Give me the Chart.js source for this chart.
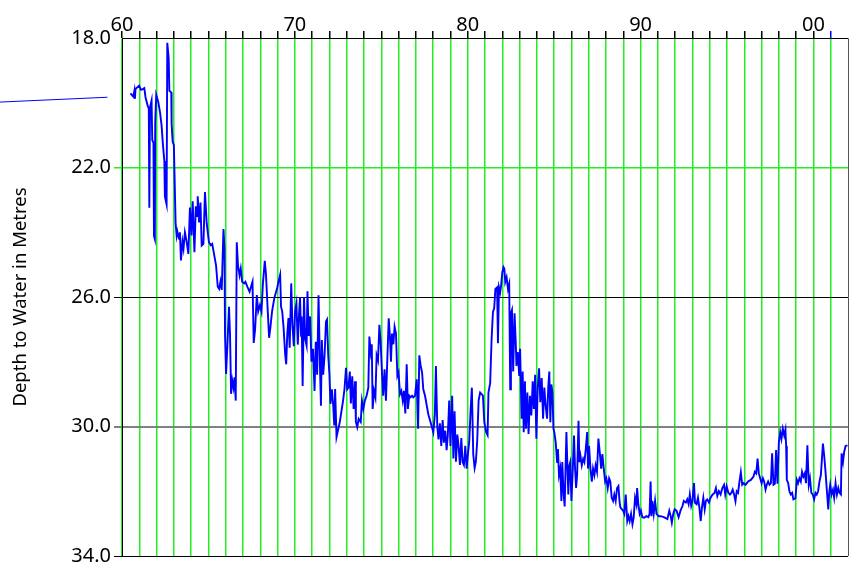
<!DOCTYPE html>
<html>
<head>
<meta charset="utf-8">
<script src="https://cdn.jsdelivr.net/npm/chart.js@4.4.1/dist/chart.umd.min.js"></script>
<style>
  html, body { margin: 0; padding: 0; background: #fff; }
</style>
</head>
<body>
<canvas id="chart" width="851" height="571"></canvas>
<script>
// depth readings (decimal year, metres below surface)
const years = [
  1960.49, 1960.65, 1960.72, 1960.75, 1960.78, 1960.99, 1961.10, 1961.20, 1961.29, 1961.36,
  1961.48, 1961.55, 1961.58, 1961.62, 1961.71, 1961.75, 1961.82, 1961.85, 1961.90, 1961.92,
  1961.98, 1962.10, 1962.20, 1962.29, 1962.37, 1962.45, 1962.48, 1962.58, 1962.62, 1962.70,
  1962.74, 1962.85, 1962.87, 1962.93, 1963.00, 1963.10, 1963.16, 1963.20, 1963.30, 1963.35,
  1963.41, 1963.50, 1963.56, 1963.64, 1963.73, 1963.84, 1963.93, 1964.02, 1964.09, 1964.19,
  1964.27, 1964.35, 1964.38, 1964.46, 1964.54, 1964.61, 1964.71, 1964.80, 1964.90, 1965.03,
  1965.14, 1965.22, 1965.30, 1965.44, 1965.54, 1965.62, 1965.70, 1965.77, 1965.87, 1965.93,
  1965.96, 1966.02, 1966.10, 1966.19, 1966.25, 1966.31, 1966.38, 1966.45, 1966.51, 1966.58,
  1966.64, 1966.71, 1966.80, 1966.87, 1966.95, 1967.06, 1967.14, 1967.25, 1967.38, 1967.55,
  1967.62, 1967.70, 1967.80, 1967.88, 1967.98, 1968.07, 1968.15, 1968.26, 1968.33, 1968.41,
  1968.51, 1968.58, 1968.68, 1968.81, 1968.97, 1969.05, 1969.15, 1969.20, 1969.27, 1969.35,
  1969.44, 1969.50, 1969.56, 1969.63, 1969.70, 1969.79, 1969.86, 1969.94, 1970.01, 1970.09,
  1970.17, 1970.24, 1970.30, 1970.36, 1970.39, 1970.45, 1970.53, 1970.60, 1970.68, 1970.73,
  1970.80, 1970.88, 1970.96, 1971.05, 1971.14, 1971.21, 1971.29, 1971.37, 1971.45, 1971.51,
  1971.56, 1971.64, 1971.72, 1971.80, 1971.86, 1971.93, 1972.00, 1972.06, 1972.14, 1972.22,
  1972.28, 1972.33, 1972.41, 1972.60, 1972.79, 1972.87, 1972.96, 1973.03, 1973.10, 1973.18,
  1973.24, 1973.32, 1973.40, 1973.48, 1973.53, 1973.61, 1973.69, 1973.81, 1973.88, 1973.96,
  1974.05, 1974.15, 1974.25, 1974.31, 1974.39, 1974.45, 1974.50, 1974.58, 1974.66, 1974.73,
  1974.81, 1974.89, 1974.96, 1975.04, 1975.11, 1975.19, 1975.27, 1975.34, 1975.43, 1975.50,
  1975.56, 1975.62, 1975.70, 1975.77, 1975.85, 1975.93, 1976.00, 1976.08, 1976.16, 1976.24,
  1976.31, 1976.39, 1976.47, 1976.54, 1976.62, 1976.70, 1976.78, 1976.85, 1976.95, 1977.05,
  1977.13, 1977.20, 1977.28, 1977.36, 1977.43, 1977.53, 1977.72, 1977.92, 1978.01, 1978.10,
  1978.16, 1978.24, 1978.31, 1978.39, 1978.47, 1978.55, 1978.62, 1978.70, 1978.78, 1978.85,
  1978.93, 1979.00, 1979.10, 1979.17, 1979.24, 1979.32, 1979.40, 1979.47, 1979.55, 1979.63,
  1979.70, 1979.78, 1979.86, 1979.94, 1980.01, 1980.09, 1980.17, 1980.24, 1980.32, 1980.40,
  1980.47, 1980.55, 1980.63, 1980.72, 1980.88, 1980.96, 1981.07, 1981.15, 1981.20, 1981.30,
  1981.38, 1981.46, 1981.53, 1981.60, 1981.70, 1981.75, 1981.81, 1981.88, 1981.94, 1982.00,
  1982.07, 1982.12, 1982.17, 1982.25, 1982.33, 1982.40, 1982.46, 1982.50, 1982.56, 1982.63,
  1982.71, 1982.78, 1982.82, 1982.90, 1982.98, 1983.03, 1983.12, 1983.18, 1983.24, 1983.31,
  1983.37, 1983.45, 1983.52, 1983.60, 1983.68, 1983.76, 1983.83, 1983.90, 1983.97, 1984.05,
  1984.13, 1984.20, 1984.28, 1984.36, 1984.43, 1984.51, 1984.59, 1984.66, 1984.72, 1984.78,
  1984.84, 1984.90, 1984.96, 1985.01, 1985.09, 1985.17, 1985.22, 1985.28, 1985.35, 1985.42,
  1985.47, 1985.55, 1985.61, 1985.66, 1985.71, 1985.76, 1985.82, 1985.88, 1985.93, 1986.00,
  1986.08, 1986.15, 1986.21, 1986.27, 1986.33, 1986.41, 1986.46, 1986.52, 1986.60, 1986.68,
  1986.75, 1986.83, 1986.91, 1986.96, 1987.02, 1987.10, 1987.18, 1987.25, 1987.33, 1987.40,
  1987.48, 1987.56, 1987.64, 1987.72, 1987.79, 1987.87, 1987.95, 1988.02, 1988.10, 1988.18,
  1988.25, 1988.33, 1988.41, 1988.48, 1988.56, 1988.64, 1988.72, 1988.78, 1988.83, 1988.91,
  1988.99, 1989.06, 1989.14, 1989.23, 1989.30, 1989.37, 1989.45, 1989.53, 1989.60, 1989.68,
  1989.76, 1989.80, 1989.87, 1989.95, 1990.02, 1990.10, 1990.21, 1990.33, 1990.45, 1990.52,
  1990.58, 1990.63, 1990.68, 1990.76, 1990.84, 1990.92, 1991.05, 1991.16, 1991.35, 1991.55,
  1991.66, 1991.74, 1991.81, 1991.89, 1991.97, 1992.08, 1992.20, 1992.31, 1992.43, 1992.50,
  1992.62, 1992.70, 1992.78, 1992.85, 1992.93, 1993.00, 1993.09, 1993.15, 1993.24, 1993.32,
  1993.40, 1993.48, 1993.55, 1993.63, 1993.71, 1993.78, 1993.86, 1993.96, 1994.05, 1994.17,
  1994.28, 1994.36, 1994.44, 1994.53, 1994.63, 1994.73, 1994.83, 1994.90, 1994.98, 1995.08,
  1995.17, 1995.25, 1995.33, 1995.41, 1995.49, 1995.56, 1995.64, 1995.72, 1995.80, 1995.88,
  1995.96, 1996.07, 1996.22, 1996.38, 1996.53, 1996.61, 1996.69, 1996.77, 1996.84, 1996.92,
  1997.00, 1997.08, 1997.15, 1997.23, 1997.30, 1997.38, 1997.46, 1997.54, 1997.61, 1997.69,
  1997.77, 1997.84, 1997.92, 1998.00, 1998.08, 1998.15, 1998.23, 1998.31, 1998.38, 1998.42,
  1998.46, 1998.54, 1998.61, 1998.69, 1998.77, 1998.84, 1998.96, 1999.04, 1999.11, 1999.19,
  1999.27, 1999.34, 1999.42, 1999.50, 1999.57, 1999.65, 1999.73, 1999.80, 1999.88, 1999.96,
  2000.04, 2000.12, 2000.19, 2000.27, 2000.35, 2000.43, 2000.55, 2000.62, 2000.70, 2000.78,
  2000.86, 2000.92, 2000.97, 2001.05, 2001.13, 2001.20, 2001.28, 2001.36, 2001.44, 2001.51,
  2001.59, 2001.63, 2001.71, 2001.78, 2001.86, 2001.97
];
const depths = [
  19.71, 19.81, 19.62, 19.88, 19.58, 19.47, 19.60, 19.58, 19.55, 19.83,
  20.08, 20.18, 23.24, 20.14, 19.93, 21.15, 21.24, 24.11, 24.21, 20.65,
  19.75, 19.98, 20.30, 20.70, 21.31, 21.80, 22.89, 23.14, 18.15, 18.61,
  19.63, 19.68, 20.65, 21.20, 21.30, 23.70, 24.10, 23.97, 24.20, 24.00,
  24.87, 24.29, 24.50, 24.00, 24.26, 24.67, 23.24, 24.10, 23.04, 24.62,
  23.20, 23.50, 22.89, 23.70, 23.08, 24.41, 24.36, 22.76, 23.72, 24.31,
  24.40, 24.36, 24.60, 25.02, 25.68, 25.75, 25.52, 25.78, 23.90, 24.51,
  27.16, 28.38, 27.46, 26.30, 27.16, 28.99, 28.58, 28.80, 28.48, 29.20,
  24.31, 25.02, 25.33, 25.12, 25.53, 25.58, 25.53, 25.68, 25.84, 25.53,
  27.42, 27.00, 25.94, 26.45, 26.25, 26.45, 25.60, 24.88, 25.30, 26.20,
  27.26, 26.96, 26.45, 26.04, 25.74, 25.53, 25.31, 26.30, 26.45, 26.96,
  27.77, 28.08, 27.16, 26.65, 27.57, 25.58, 26.86, 27.52, 26.45, 26.20,
  27.47, 26.55, 26.00, 27.20, 26.60, 28.75, 26.00, 27.30, 27.50, 25.82,
  27.20, 26.60, 28.00, 27.60, 28.90, 27.38, 28.40, 25.95, 28.10, 29.36,
  27.33, 28.40, 27.80, 26.76, 26.70, 27.80, 28.40, 29.30, 28.85, 29.36,
  29.97, 28.84, 30.33, 29.86, 29.20, 28.85, 28.19, 28.85, 28.80, 28.30,
  29.29, 28.45, 29.46, 28.60, 29.86, 30.02, 29.76, 29.86, 29.20, 29.46,
  29.20, 29.05, 28.80, 27.22, 27.70, 27.46, 29.46, 28.90, 29.10, 27.80,
  27.96, 26.86, 27.38, 28.33, 29.05, 28.23, 29.20, 28.08, 26.66, 27.22,
  28.00, 27.13, 27.46, 26.92, 27.13, 28.44, 28.33, 29.00, 28.90, 29.20,
  28.90, 29.60, 28.08, 29.46, 29.05, 29.10, 29.05, 29.10, 29.05, 28.54,
  30.07, 27.80, 28.13, 28.33, 28.85, 29.05, 29.62, 30.00, 30.18, 29.62,
  28.13, 30.00, 30.40, 29.90, 30.60, 29.80, 30.50, 30.13, 30.73, 30.25,
  29.20, 30.60, 29.05, 30.99, 29.53, 31.09, 30.25, 30.60, 31.19, 30.36,
  31.09, 31.19, 30.60, 31.30, 30.86, 30.45, 29.46, 28.80, 30.86, 31.28,
  31.09, 30.45, 29.20, 28.95, 29.05, 29.87, 30.18, 30.27, 28.95, 28.65,
  27.32, 26.46, 26.36, 25.75, 25.70, 27.43, 25.70, 25.85, 25.60, 25.24,
  25.08, 25.13, 25.54, 25.39, 25.75, 25.60, 28.85, 26.50, 26.40, 28.30,
  26.50, 27.43, 28.13, 27.70, 28.44, 27.60, 29.76, 28.30, 30.18, 28.60,
  30.07, 28.95, 30.23, 29.05, 29.66, 28.60, 29.46, 28.40, 30.38, 28.80,
  28.20, 29.25, 28.50, 29.76, 28.80, 29.36, 29.76, 28.80, 28.30, 29.87,
  28.70, 28.95, 30.07, 30.18, 30.48, 31.10, 30.70, 31.50, 31.30, 32.30,
  31.10, 32.10, 32.47, 31.30, 30.17, 31.10, 32.10, 31.20, 31.10, 32.30,
  31.30, 30.28, 31.30, 31.90, 31.50, 29.82, 31.10, 30.90, 31.20, 31.00,
  31.10, 30.70, 30.17, 31.30, 30.60, 31.30, 31.70, 31.30, 31.50, 31.20,
  31.40, 30.37, 30.80, 31.30, 30.85, 31.30, 31.70, 31.60, 31.90, 31.60,
  31.70, 32.20, 32.30, 32.10, 32.30, 31.90, 31.84, 32.30, 32.50, 32.55,
  32.60, 32.70, 32.10, 32.92, 32.77, 32.92, 32.70, 33.02, 32.82, 32.20,
  32.40, 31.90, 32.40, 32.70, 32.60, 32.80, 32.82, 32.77, 32.80, 32.70,
  31.70, 32.77, 32.30, 32.70, 32.30, 32.70, 32.77, 32.77, 32.80, 32.86,
  32.60, 32.76, 32.97, 32.70, 32.56, 32.60, 32.80, 32.60, 32.45, 32.30,
  32.35, 32.25, 32.40, 32.10, 32.45, 32.30, 31.75, 32.36, 32.40, 32.20,
  32.50, 32.92, 32.50, 32.20, 32.56, 32.30, 32.25, 32.35, 32.20, 32.10,
  32.05, 31.90, 32.15, 32.00, 32.10, 31.90, 31.80, 32.10, 31.85, 32.05,
  32.10, 32.05, 31.95, 32.10, 32.31, 32.00, 32.05, 31.70, 31.41, 31.80,
  31.75, 31.80, 31.70, 31.65, 31.55, 31.40, 31.45, 30.99, 31.45, 31.60,
  31.75, 31.60, 31.70, 31.95, 31.80, 31.70, 31.80, 31.75, 30.83, 31.80,
  31.77, 30.73, 31.77, 30.48, 30.17, 30.38, 30.07, 30.28, 30.10, 30.60,
  31.65, 31.75, 32.00, 32.10, 32.05, 32.25, 32.22, 31.65, 31.75, 31.60,
  31.70, 31.40, 31.55, 31.45, 31.75, 30.58, 31.80, 31.60, 32.05, 32.10,
  32.25, 32.05, 32.10, 32.00, 31.70, 31.50, 30.53, 30.88, 31.40, 32.00,
  32.56, 32.00, 31.80, 32.10, 31.95, 32.20, 31.75, 32.10, 31.90, 32.05,
  32.10, 30.83, 31.10, 30.78, 30.60, 30.58
];

// stray trace left of the plot frame
const strayYears = [1952.9, 1959.16];
const strayDepths = [19.98, 19.83];

// axis ticks
const decadeYears = [1960, 1970, 1980, 1990, 2000];
const decadeLabels = ['60', '70', '80', '90', '00'];
const depthTicks = [18, 22, 26, 30, 34];
const depthTickLabels = ['18.0', '22.0', '26.0', '30.0', '34.0'];

const GREEN = '#22ee22';
const depthLineColors = ['#000000', GREEN, '#000000', '#808080', '#000000'];
const depthLineWidths = [1, 1.5, 1, 2, 1];
const tickFont = { family: '"Noto Sans", sans-serif', size: 20 };

function depthIndex(v) {
    return depthTicks.indexOf(Math.round(v));
}

const ctx = document.getElementById('chart').getContext('2d');

new Chart(ctx, {
    type: 'line',
    data: {
        datasets: [
            {
                data: years.map((yr, i) => ({ x: yr, y: depths[i] })),
                borderColor: '#0000ff',
                borderWidth: 1.9,
                pointRadius: 0,
                tension: 0
            },
            {
                data: strayYears.map((yr, i) => ({ x: yr, y: strayDepths[i] })),
                borderColor: '#0000ff',
                borderWidth: 1,
                pointRadius: 0,
                clip: false
            }
        ]
    },
    options: {
        responsive: false,
        animation: false,
        devicePixelRatio: 1,
        layout: { padding: { left: 0, right: 3, top: 0, bottom: 9 } },
        plugins: {
            legend: { display: false },
            tooltip: { enabled: false }
        },
        scales: {
            x: {
                type: 'linear',
                position: 'top',
                min: 1960,
                max: 2002,
                afterFit: function(scale) { scale.height = 38; },
                border: { display: true, color: '#000000', width: 1 },
                grid: {
                    color: function(c) {
                        return c.tick && c.tick.value === 2002 ? '#555555' : GREEN;
                    },
                    lineWidth: function(c) {
                        return c.tick && c.tick.value === 2002 ? 1 : 1.5;
                    },
                    tickLength: 7,
                    tickColor: function(c) {
                        if (!c.tick) return '#000000';
                        if (c.tick.value === 2002) return 'rgba(0,0,0,0)';
                        if (c.tick.value === 2001) return '#0000ff';
                        return '#000000';
                    }
                },
                ticks: {
                    stepSize: 1,
                    autoSkip: false,
                    maxRotation: 0,
                    padding: -6,
                    color: '#000000',
                    font: tickFont,
                    callback: function(v) {
                        const i = decadeYears.indexOf(v);
                        return i >= 0 ? decadeLabels[i] : '';
                    }
                }
            },
            y: {
                reverse: true,
                min: 18,
                max: 34,
                afterFit: function(scale) { scale.width = 122; },
                border: { display: true, color: '#000000', width: 1 },
                grid: {
                    color: function(c) {
                        const i = c.tick ? depthIndex(c.tick.value) : -1;
                        return i >= 0 ? depthLineColors[i] : '#000000';
                    },
                    lineWidth: function(c) {
                        const i = c.tick ? depthIndex(c.tick.value) : -1;
                        return i >= 0 ? depthLineWidths[i] : 1;
                    },
                    tickLength: 8,
                    tickColor: function(c) {
                        const i = c.tick ? depthIndex(c.tick.value) : -1;
                        if (i <= 0) return 'rgba(0,0,0,0)';
                        return depthLineColors[i];
                    }
                },
                ticks: {
                    stepSize: 4,
                    padding: 3,
                    color: '#000000',
                    font: tickFont,
                    callback: function(v) {
                        const i = depthTicks.indexOf(v);
                        return i >= 0 ? depthTickLabels[i] : '';
                    }
                },
                title: {
                    display: true,
                    text: 'Depth to Water in Metres',
                    color: '#000000',
                    font: { family: '"Noto Sans", sans-serif', size: 18.5 },
                    padding: { top: 10, bottom: 0 }
                }
            }
        }
    }
});
</script>
</body>
</html>
